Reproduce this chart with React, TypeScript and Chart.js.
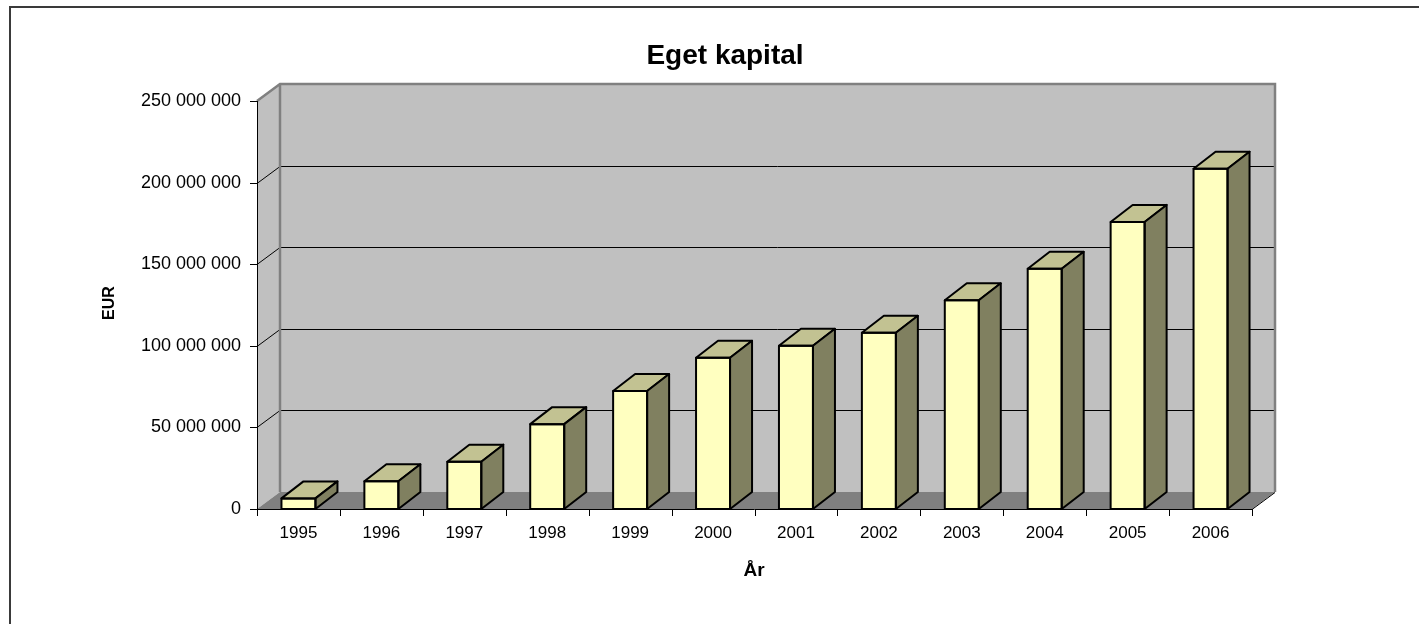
import React, { useEffect, useRef } from "react";
import { Chart, registerables } from "chart.js";

Chart.register(...registerables);

const TITLE = "Eget kapital";
const X_TITLE = "År";
const Y_TITLE = "EUR";
const years = ["1995", "1996", "1997", "1998", "1999", "2000", "2001", "2002", "2003", "2004", "2005", "2006"];
const equity = [6.5e6, 17e6, 29e6, 52e6, 72.3e6, 92.7e6, 100e6, 108e6, 127.9e6, 147.2e6, 175.9e6, 208.5e6];
const yTicks = [0, 50e6, 100e6, 150e6, 200e6, 250e6];

const FONT = '"Liberation Sans", Arial, sans-serif';
const DX = 23;
const DY = -17;
const BDX = 22;
const BDY = -17;

const fmt = (v: number) => String(Math.round(v)).replace(/\B(?=(\d{3})+(?!\d))/g, " ");

function poly(ctx: CanvasRenderingContext2D, pts: number[][]) {
  ctx.beginPath();
  ctx.moveTo(pts[0][0], pts[0][1]);
  for (let i = 1; i < pts.length; i++) ctx.lineTo(pts[i][0], pts[i][1]);
  ctx.closePath();
}

const threeD = {
  id: "threeD",
  beforeDraw(chart: any) {
    const { ctx, width, height } = chart;
    ctx.save();
    ctx.fillStyle = "#ffffff";
    ctx.fillRect(0, 0, width, height);
    ctx.fillStyle = "#3a3a3a";
    ctx.fillRect(9, 6, 2, height);
    ctx.fillRect(9, 6, width, 2);
    ctx.restore();
  },
  beforeDatasetsDraw(chart: any) {
    const { ctx } = chart;
    const { left, right, top, bottom } = chart.chartArea;
    const ys = chart.scales.y;
    ctx.save();
    ctx.fillStyle = "#c0c0c0";
    poly(ctx, [[left, top], [left + DX, top + DY], [left + DX, bottom + DY], [left, bottom]]);
    ctx.fill();
    poly(ctx, [[left + DX, top + DY], [right + DX, top + DY], [right + DX, bottom + DY], [left + DX, bottom + DY]]);
    ctx.fill();
    ctx.fillStyle = "#808080";
    poly(ctx, [[left, bottom], [right, bottom], [right + DX, bottom + DY], [left + DX, bottom + DY]]);
    ctx.fill();
    ctx.strokeStyle = "#000000";
    ctx.lineWidth = 1;
    yTicks.forEach((v) => {
      if (v <= 0 || v >= 250e6) return;
      const py = Math.round(ys.getPixelForValue(v)) + 0.5;
      ctx.beginPath();
      ctx.moveTo(left + DX, py + DY);
      ctx.lineTo(right + DX, py + DY);
      ctx.moveTo(left, py);
      ctx.lineTo(left + DX, py + DY);
      ctx.stroke();
    });
    ctx.strokeStyle = "#808080";
    ctx.lineWidth = 2.5;
    ctx.beginPath();
    ctx.moveTo(left, top);
    ctx.lineTo(left + DX, top + DY);
    ctx.lineTo(right + DX, top + DY);
    ctx.lineTo(right + DX, bottom + DY);
    ctx.moveTo(left + DX, top + DY);
    ctx.lineTo(left + DX, bottom + DY);
    ctx.stroke();
    ctx.strokeStyle = "#000000";
    ctx.lineWidth = 1;
    ctx.beginPath();
    ctx.moveTo(left + 0.5, top);
    ctx.lineTo(left + 0.5, bottom);
    ctx.moveTo(left, bottom + 0.5);
    ctx.lineTo(right, bottom + 0.5);
    ctx.lineTo(right + DX, bottom + DY + 0.5);
    yTicks.forEach((v) => {
      const py = Math.round(ys.getPixelForValue(v)) + 0.5;
      ctx.moveTo(left - 7, py);
      ctx.lineTo(left + 0.5, py);
    });
    const n = years.length;
    for (let i = 0; i <= n; i++) {
      const px = Math.round(left + ((right - left) * i) / n) + 0.5;
      ctx.moveTo(px, bottom);
      ctx.lineTo(px, bottom + 7);
    }
    ctx.stroke();
    ctx.restore();
  },
  afterDatasetsDraw(chart: any) {
    const { ctx } = chart;
    const meta = chart.getDatasetMeta(0);
    ctx.save();
    ctx.strokeStyle = "#000000";
    ctx.lineWidth = 2;
    ctx.lineJoin = "round";
    meta.data.forEach((bar: any) => {
      const { x, y, base, width } = bar.getProps(["x", "y", "base", "width"], true);
      const l = x - width / 2;
      const r = x + width / 2;
      ctx.fillStyle = "#c2c292";
      poly(ctx, [[l, y], [r, y], [r + BDX, y + BDY], [l + BDX, y + BDY]]);
      ctx.fill();
      ctx.stroke();
      ctx.fillStyle = "#808060";
      poly(ctx, [[r, y], [r + BDX, y + BDY], [r + BDX, base + BDY], [r, base]]);
      ctx.fill();
      ctx.stroke();
      poly(ctx, [[l, y], [r, y], [r, base], [l, base]]);
      ctx.stroke();
    });
    ctx.restore();
  },
  afterDraw(chart: any) {
    const { ctx } = chart;
    ctx.save();
    ctx.fillStyle = "#000000";
    ctx.textAlign = "center";
    ctx.textBaseline = "alphabetic";
    ctx.font = `bold 28px ${FONT}`;
    ctx.fillText(TITLE, 725, 64);
    ctx.font = `bold 19px ${FONT}`;
    ctx.fillText(X_TITLE, 754, 576);
    ctx.translate(114, 303);
    ctx.rotate(-Math.PI / 2);
    ctx.font = `bold 16px ${FONT}`;
    ctx.fillText(Y_TITLE, 0, 0);
    ctx.restore();
  },
};

export default function App() {
  const ref = useRef<HTMLCanvasElement>(null);
  useEffect(() => {
    if (!ref.current) return;
    const chart = new Chart(ref.current, {
      type: "bar",
      data: {
        labels: years,
        datasets: [
          {
            data: equity,
            backgroundColor: "#ffffc0",
            borderWidth: 0,
            barPercentage: 0.41,
            categoryPercentage: 1,
          },
        ],
      },
      options: {
        responsive: false,
        animation: false,
        devicePixelRatio: 1,
        layout: { padding: { left: 10, top: 101, right: 167, bottom: 75 } },
        plugins: {
          legend: { display: false },
          title: { display: false },
          tooltip: { enabled: false },
        },
        scales: {
          x: {
            grid: { display: false, drawTicks: false },
            border: { display: false },
            ticks: {
              color: "#000",
              font: { family: FONT, size: 17 },
              padding: 14,
              maxRotation: 0,
              autoSkip: false,
            },
            afterFit: (s: any) => {
              s.height = 40;
            },
          },
          y: {
            min: 0,
            max: 250e6,
            grid: { display: false, drawTicks: false },
            border: { display: false },
            ticks: {
              stepSize: 50e6,
              color: "#000",
              font: { family: FONT, size: 18 },
              padding: 16,
              callback: (v: any) => fmt(Number(v)),
            },
            afterFit: (s: any) => {
              s.width = 247;
            },
          },
        },
      },
      plugins: [threeD],
    });
    return () => chart.destroy();
  }, []);
  return (
    <div style={{ position: "fixed", left: 0, top: 0, width: 1419, height: 624, background: "#fff" }}>
      <canvas ref={ref} width={1419} height={624} style={{ display: "block" }} />
    </div>
  );
}
